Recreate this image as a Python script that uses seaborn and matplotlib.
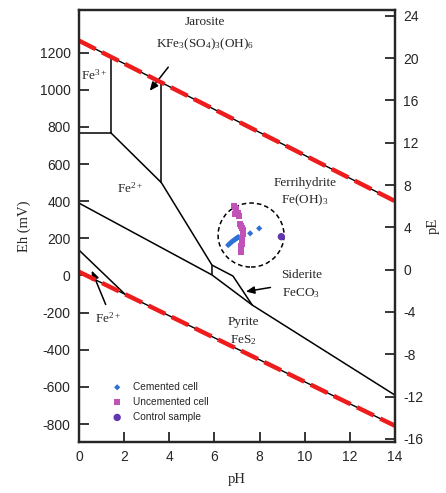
import matplotlib
matplotlib.use("Agg")
import matplotlib.pyplot as plt
from matplotlib.patches import Ellipse
import seaborn as sns
import pandas as pd

sns.set_style("ticks")
plt.rcParams["font.family"] = ["Liberation Sans", "DejaVu Sans"]
plt.rcParams["axes.unicode_minus"] = False
plt.rcParams["mathtext.fontset"] = "custom"
plt.rcParams["mathtext.rm"] = "Liberation Serif"
plt.rcParams["mathtext.it"] = "Liberation Serif:italic"
plt.rcParams["mathtext.bf"] = "Liberation Serif:bold"

SERIF = ["Liberation Serif", "DejaVu Serif"]

# Water stability limits (pH, Eh in mV)
o2_ph = [0, 14]
o2_eh = [1265, 400]
h2_ph = [0, 14]
h2_eh = [20, -810]

# Phase boundaries of the Fe-S-K-C-O-H system
fe3_fe2_ph = [0, 1.4]
fe3_fe2_eh = [770, 770]
fe3_jar_ph = [1.4, 1.4]
fe3_jar_eh = [770, 1181]
upper_diag_ph = [1.4, 3.65]
upper_diag_eh = [770, 500]
jar_fer_ph = [3.65, 3.65]
jar_fer_eh = [500, 1041]
fe2_fer_ph = [3.65, 5.89, 5.89]
fe2_fer_eh = [500, 56, 3]
siderite_top_ph = [5.89, 6.82, 7.67]
siderite_top_eh = [56, -3, -159]
pyrite_ph = [0, 5.89, 7.67, 14]
pyrite_eh = [390, 3, -159, -645]
low_fe2_ph = [0, 2.04]
low_fe2_eh = [137, -101]

# Measured samples
cemented_ph = [6.61, 6.67, 6.73, 6.79, 6.85, 6.91, 6.96, 7.01, 7.06, 7.58, 7.98]
cemented_eh = [164, 171, 178, 184, 189, 194, 199, 203, 207, 227, 254]
uncemented_ph = [6.87, 6.92, 6.96, 7.04, 6.91, 7.09, 7.13, 7.17, 7.22, 7.25, 7.27,
                 7.26, 7.24, 7.23, 7.22, 7.21, 7.20, 7.19, 7.18, 7.18]
uncemented_eh = [374, 366, 358, 337, 331, 320, 277, 266, 256, 245, 234,
                 224, 213, 202, 191, 180, 170, 159, 148, 127]
control_ph = [8.96]
control_eh = [209]

fig = plt.figure(figsize=(4.46, 4.93), dpi=100)
ax = fig.add_axes([0.177, 0.1034, 0.709, 0.8763])

line_kw = dict(color="black", lw=1.1, solid_capstyle="butt")
for xs, ys in [(fe3_fe2_ph, fe3_fe2_eh), (fe3_jar_ph, fe3_jar_eh),
               (upper_diag_ph, upper_diag_eh), (jar_fer_ph, jar_fer_eh),
               (fe2_fer_ph, fe2_fer_eh), (siderite_top_ph, siderite_top_eh),
               (pyrite_ph, pyrite_eh), (low_fe2_ph, low_fe2_eh)]:
    ax.plot(xs, ys, **line_kw)

# water limits: thin black line under a red dashed line
for xs, ys in [(o2_ph, o2_eh), (h2_ph, h2_eh)]:
    ax.plot(xs, ys, color="black", lw=1.0, zorder=3)
    ax.plot(xs, ys, color="#ee1c1c", lw=3.2, dashes=(4.2, 1.6), zorder=4,
            solid_capstyle="butt", dash_capstyle="butt")

df_c = pd.DataFrame({"pH": cemented_ph, "Eh": cemented_eh})
df_u = pd.DataFrame({"pH": uncemented_ph, "Eh": uncemented_eh})
df_k = pd.DataFrame({"pH": control_ph, "Eh": control_eh})
sns.scatterplot(data=df_c, x="pH", y="Eh", ax=ax, marker="D", s=10, color="#2f6fd8",
                edgecolor="none", label="Cemented cell", zorder=5)
sns.scatterplot(data=df_u, x="pH", y="Eh", ax=ax, marker="s", s=18, color="#c052b8",
                edgecolor="none", label="Uncemented cell", zorder=5)
sns.scatterplot(data=df_k, x="pH", y="Eh", ax=ax, marker="o", s=28, color="#6236b0",
                edgecolor="none", label="Control sample", zorder=6)

ax.add_patch(Ellipse((7.62, 218), 2.92, 345, fill=False, ls=(0, (3, 2)), lw=1.1,
                     color="black", zorder=4))

ax.set_xlim(0, 14)
ax.set_ylim(-897, 1430)
ax.set_xticks(range(0, 15, 2))
ax.set_yticks(range(-800, 1201, 200))
ax.tick_params(direction="in", length=7, width=1.3, labelsize=10, pad=6)
ax.set_xlabel("pH", family=SERIF, fontsize=10.5, labelpad=6)
ax.set_ylabel("Eh (mV)", family=SERIF, fontsize=10.5, labelpad=6)
for s in ax.spines.values():
    s.set_linewidth(1.6)
    s.set_visible(True)

ax2 = ax.twinx()
ax2.set_ylim(-16.3, 24.55)
ax2.set_yticks(range(-16, 25, 4))
ax2.tick_params(direction="in", length=7, width=1.3, labelsize=10, pad=6)
ax2.set_ylabel("pE", family=SERIF, fontsize=10.5, labelpad=2)
for s in ax2.spines.values():
    s.set_linewidth(1.6)

# region labels
tk = dict(family=SERIF, fontsize=9.5, ha="center", va="center")
ax.text(5.58, 1365, "Jarosite", **tk)
ax.text(5.58, 1247, "KFe$_3$(SO$_4$)$_3$(OH)$_6$", **tk)
ax.text(0.65, 1080, "Fe$^{3+}$", **tk)
ax.text(2.26, 471, "Fe$^{2+}$", **tk)
ax.text(10.0, 498, "Ferrihydrite", **tk)
ax.text(10.0, 407, "Fe(OH)$_3$", **tk)
ax.text(9.85, 3, "Siderite", **tk)
ax.text(9.85, -94, "FeCO$_3$", **tk)
ax.text(7.3, -250, "Pyrite", **tk)
ax.text(7.3, -347, "FeS$_2$", **tk)
ax.text(1.3, -228, "Fe$^{2+}$", **tk)

arrow = dict(arrowstyle="-|>,head_length=0.5,head_width=0.22", color="black", lw=1.1)
ax.annotate("", xy=(3.06, 983), xytext=(4.03, 1134), arrowprops=arrow)
ax.annotate("", xy=(0.52, 40), xytext=(1.23, -170), arrowprops=arrow)
ax.annotate("", xy=(7.27, -89), xytext=(8.6, -62), arrowprops=arrow)

leg = ax.legend(loc="lower left", bbox_to_anchor=(0.06, 0.025), frameon=False,
                fontsize=7.3, handletextpad=0.6, labelspacing=0.5, markerscale=1.0)

fig.savefig("out.png", dpi=100)
